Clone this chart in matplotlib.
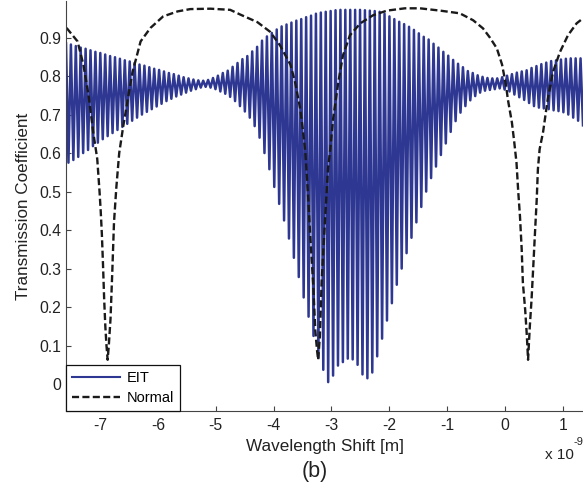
import numpy as np
import matplotlib

matplotlib.use("Agg")
import matplotlib.pyplot as plt  # noqa: E402

plt.rcParams["font.family"] = ["Liberation Sans", "DejaVu Sans"]

# EIT ripple train: max and min of each ripple, left to right (x in 1e-9 m)
eit_span = (-7.59, 1.35)
eit_peak = [
    0.885, 0.882, 0.878, 0.874, 0.871, 0.867, 0.863, 0.860, 0.856, 0.852,
    0.849, 0.845, 0.841, 0.838, 0.834, 0.830, 0.827, 0.823, 0.819, 0.816,
    0.812, 0.808, 0.805, 0.801, 0.797, 0.794, 0.791, 0.789, 0.788, 0.790,
    0.795, 0.801, 0.808, 0.814, 0.824, 0.834, 0.844, 0.852, 0.864, 0.876,
    0.892, 0.903, 0.912, 0.921, 0.929, 0.934, 0.939, 0.944, 0.948, 0.953,
    0.957, 0.962, 0.965, 0.967, 0.969, 0.971, 0.972, 0.972, 0.972, 0.972,
    0.972, 0.971, 0.970, 0.969, 0.967, 0.962, 0.955, 0.948, 0.941, 0.935,
    0.928, 0.920, 0.911, 0.902, 0.895, 0.884, 0.874, 0.863, 0.853, 0.842,
    0.832, 0.823, 0.813, 0.808, 0.802, 0.798, 0.795, 0.794, 0.794, 0.797,
    0.801, 0.805, 0.809, 0.812, 0.815, 0.821, 0.826, 0.831, 0.835, 0.839,
    0.841, 0.843, 0.845, 0.846, 0.846, 0.846,
]
eit_dip = [
    0.575, 0.582, 0.590, 0.600, 0.608, 0.618, 0.627, 0.636, 0.644, 0.652,
    0.660, 0.668, 0.676, 0.684, 0.692, 0.700, 0.707, 0.714, 0.721, 0.728,
    0.735, 0.741, 0.747, 0.752, 0.757, 0.762, 0.766, 0.770, 0.772, 0.770,
    0.766, 0.760, 0.754, 0.746, 0.735, 0.722, 0.708, 0.692, 0.670, 0.640,
    0.600, 0.558, 0.512, 0.468, 0.425, 0.378, 0.328, 0.278, 0.225, 0.175,
    0.125, 0.068, 0.037, 0.005, 0.022, 0.048, 0.057, 0.066, 0.064, 0.050,
    0.025, 0.015, 0.030, 0.072, 0.118, 0.165, 0.210, 0.258, 0.300, 0.340,
    0.380, 0.420, 0.460, 0.500, 0.535, 0.565, 0.595, 0.625, 0.655, 0.683,
    0.705, 0.722, 0.737, 0.748, 0.757, 0.762, 0.764, 0.766, 0.768, 0.765,
    0.760, 0.752, 0.745, 0.738, 0.730, 0.722, 0.718, 0.716, 0.714, 0.711,
    0.709, 0.706, 0.700, 0.692, 0.684, 0.672,
]

# Normal (no EIT) transmission, traced points
normal_x = [
    -7.58, -7.39, -7.29, -7.20, -7.12, -7.05, -7.01, -6.99, -6.97, -6.95,
    -6.93, -6.91, -6.89, -6.87, -6.85, -6.82, -6.79, -6.76, -6.72, -6.67,
    -6.60, -6.51, -6.44, -6.30, -6.13, -5.91, -5.66, -5.44, -5.09, -4.75,
    -4.58, -4.28, -4.06, -3.89, -3.71, -3.63, -3.54, -3.49, -3.45, -3.40,
    -3.37, -3.34, -3.31, -3.28, -3.25, -3.23, -3.20, -3.17, -3.14, -3.10,
    -3.06, -3.02, -2.97, -2.88, -2.80, -2.68, -2.50, -2.28, -2.04, -1.73,
    -1.47, -1.12, -0.78, -0.55, -0.38, -0.26, -0.14, -0.05, 0.02, 0.05,
    0.12, 0.16, 0.20, 0.23, 0.26, 0.29, 0.31, 0.35, 0.38, 0.40,
    0.43, 0.46, 0.49, 0.52, 0.55, 0.57, 0.60, 0.66, 0.74, 0.83,
    0.95, 1.09, 1.24, 1.35,
]
normal_y = [
    0.925, 0.890, 0.830, 0.750, 0.655, 0.585, 0.500, 0.450, 0.390, 0.310,
    0.220, 0.150, 0.100, 0.063, 0.100, 0.170, 0.290, 0.420, 0.510, 0.600,
    0.670, 0.750, 0.810, 0.890, 0.925, 0.955, 0.968, 0.974, 0.975, 0.972,
    0.960, 0.940, 0.915, 0.880, 0.830, 0.785, 0.715, 0.655, 0.600, 0.480,
    0.394, 0.320, 0.245, 0.141, 0.089, 0.063, 0.123, 0.264, 0.350, 0.454,
    0.558, 0.610, 0.690, 0.785, 0.854, 0.906, 0.937, 0.958, 0.970, 0.976,
    0.976, 0.970, 0.963, 0.945, 0.924, 0.900, 0.872, 0.830, 0.775, 0.740,
    0.680, 0.630, 0.575, 0.500, 0.436, 0.350, 0.264, 0.193, 0.123, 0.063,
    0.149, 0.219, 0.305, 0.394, 0.480, 0.558, 0.610, 0.655, 0.740, 0.810,
    0.862, 0.906, 0.937, 0.950,
]

xticks = [-7, -6, -5, -4, -3, -2, -1, 0, 1]
yticks = [0, 0.1, 0.2, 0.3, 0.4, 0.5, 0.6, 0.7, 0.8, 0.9]
ytick_labels = ["0", "0.1", "0.2", "0.3", "0.4", "0.5", "0.6", "0.7", "0.8", "0.9"]

W, H = 583, 493
fig = plt.figure(figsize=(W / 100, H / 100), dpi=100)
ax = fig.add_axes([66 / W, 82 / H, (W - 66) / W, (411 - 1) / H])

eit_x = np.linspace(eit_span[0], eit_span[1], 2 * len(eit_peak))
eit_y = np.column_stack([eit_peak, eit_dip]).ravel()
ax.plot(eit_x, eit_y, color="#2e3892", lw=1.8, label="EIT")
ax.plot(normal_x, normal_y, color="#1a1a1a", lw=1.7, ls=(0, (3.0, 1.4)),
        label="Normal")

ax.set_xlim(-7.59, 1.35)
ax.set_ylim(-0.07, 0.995)
ax.set_xticks(xticks)
ax.set_xticklabels([str(t) for t in xticks])
ax.set_yticks(yticks)
ax.set_yticklabels(ytick_labels)
ax.tick_params(direction="in", length=3.6, width=0.8, labelsize=11.3,
               colors="#444444", labelcolor="#222222")
ax.tick_params(axis="x", pad=5)
ax.tick_params(axis="y", pad=3.5)
for side in ("top", "right"):
    ax.spines[side].set_visible(False)
for side in ("left", "bottom"):
    ax.spines[side].set_color("#444444")
    ax.spines[side].set_linewidth(0.8)

ax.set_ylabel("Transmission Coefficient", fontsize=12.3, color="#222222",
              labelpad=6)
ax.set_xlabel("Wavelength Shift [m]", fontsize=12.3, color="#222222",
              labelpad=4.5)

leg = ax.legend(loc="lower left", borderaxespad=0, fancybox=False,
                framealpha=1, edgecolor="#111111", fontsize=10.5,
                handlelength=3.3, handletextpad=0.5, borderpad=0.4,
                labelspacing=0.45)
leg.get_frame().set_linewidth(0.9)
leg.get_lines()[0].set_linewidth(1.5)

fig.text(315 / W, 1 - 472 / H, "(b)", fontsize=15.5, ha="center",
         va="center", color="#222222")
fig.text(545 / W, 1 - 455 / H, "x 10", fontsize=11, ha="left",
         va="center", color="#222222")
fig.text(573 / W, 1 - 442 / H, "-9", fontsize=8, ha="left",
         va="center", color="#222222")

fig.savefig("out.png", dpi=100)
plt.close(fig)
